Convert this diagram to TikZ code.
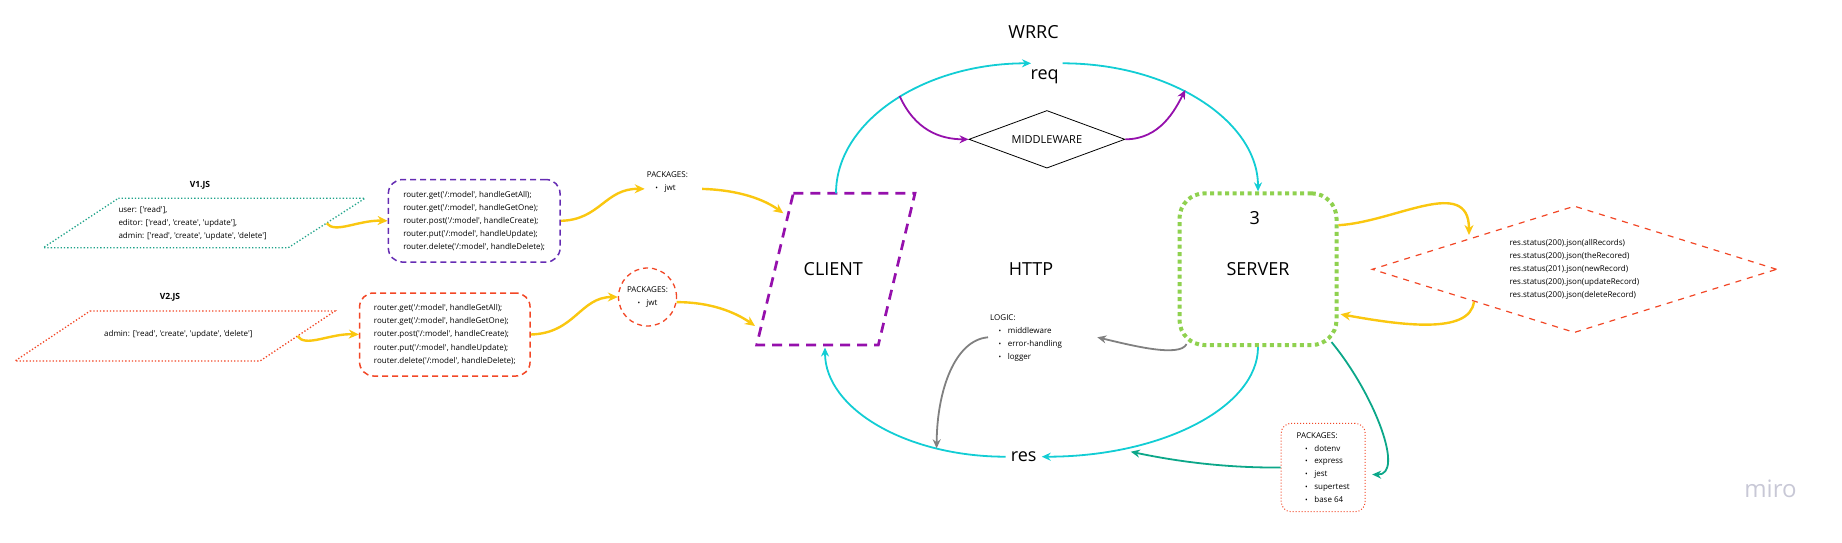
\documentclass[tikz,border=0pt]{standalone}
\usepackage{fontspec}
\setmainfont{Open Sans}[Ligatures=TeXOff]
\usetikzlibrary{arrows.meta,shapes.geometric}

\definecolor{miroyellow}{HTML}{FAC710}
\definecolor{mirocyan}{HTML}{12CDD4}
\definecolor{miroteal}{HTML}{0CA789}
\definecolor{v1teal}{HTML}{1FA38A}
\definecolor{mirogreen}{HTML}{8FD14F}
\definecolor{miropurple}{HTML}{9510AC}
\definecolor{miroviolet}{HTML}{652CB3}
\definecolor{mirored}{HTML}{F24726}
\definecolor{mirogray}{HTML}{808080}
\definecolor{markgray}{HTML}{C8C8D6}

\newcommand{\bulmark}{{\fontsize{7}{7}\selectfont •}}
\newcommand{\pkgbul}[1]{\hspace*{8.5pt}\bulmark\hspace{6.5pt}#1}

\begin{document}
\begin{tikzpicture}[x=1pt,y=-1pt,
	yarrow/.style={draw=miroyellow, line width=2.4pt, -{Stealth[length=10pt,width=9pt]}},
	carrow/.style={draw=mirocyan, line width=1.8pt, -{Stealth[length=9pt,width=8pt]}},
	parrow/.style={draw=miropurple, line width=1.8pt, -{Stealth[length=9pt,width=8pt]}},
	tarrow/.style={draw=miroteal, line width=1.8pt, -{Stealth[length=9pt,width=8pt]}},
	garrow/.style={draw=mirogray, line width=1.8pt, -{Stealth[length=9pt,width=8pt]}},
	txt/.style={font=\fontsize{8}{12.9}\selectfont, align=left, inner sep=0pt},
	codetxt/.style={font=\fontsize{8}{13.1}\selectfont, align=left, inner sep=0pt},
	big/.style={font=\fontsize{18}{20}\selectfont, inner sep=0pt},
	title/.style={font=\fontsize{8.5}{10}\selectfont\bfseries, inner sep=0pt},
]
	\useasboundingbox (0,0) rectangle (1842,542);
	\coordinate (A1) at (118.3,198.3);
	\coordinate (B1) at (365,198.3);
	\coordinate (C1) at (288.3,247.7);
	\coordinate (D1) at (43.3,247.7);
	\coordinate (A2) at (90,311);
	\coordinate (B2) at (335,311);
	\coordinate (C2) at (260,361);
	\coordinate (D2) at (15,361);
	\coordinate (A0) at (793.3,193.3);
	\coordinate (B0) at (915,193.3);
	\coordinate (C0) at (878.3,345);
	\coordinate (D0) at (756.7,345);
% roles files
	\draw[v1teal, line width=1.3pt, dotted] (A1) -- (B1) -- (C1) -- (D1) -- cycle;
	\node[title] (v1title) at (200,185) {V1.JS};
	\node[txt, anchor=west] (v1roles) at (118.3,223.5) {user: ['read'],\\editor: ['read', 'create', 'update'],\\admin: ['read', 'create', 'update', 'delete']};
	\draw[mirored, line width=1.3pt, dotted] (A2) -- (B2) -- (C2) -- (D2) -- cycle;
	\node[title] (v2title) at (170,297.7) {V2.JS};
	\node[txt] (v2roles) at (178.3,334) {admin: ['read', 'create', 'update', 'delete']};
	% routes
	\node[codetxt, draw=miroviolet, line width=1.5pt, dash pattern=on 6pt off 4pt, rounded corners=14pt, minimum width=171.7pt, minimum height=82.5pt] (routes1) at (474.2,220.8) {router.get('/:model', handleGetAll);\\router.get('/:model', handleGetOne);\\router.post('/:model', handleCreate);\\router.put('/:model', handleUpdate);\\router.delete('/:model', handleDelete);};
	\node[codetxt, draw=mirored, line width=1.5pt, dash pattern=on 6pt off 4pt, rounded corners=14pt, minimum width=170.5pt, minimum height=83pt] (routes2) at (444.8,334.5) {router.get('/:model', handleGetAll);\\router.get('/:model', handleGetOne);\\router.post('/:model', handleCreate);\\router.put('/:model', handleUpdate);\\router.delete('/:model', handleDelete);};
	% packages
	\node[txt, anchor=west] (pkg1) at (646.7,182.4) {PACKAGES:\\\pkgbul{jwt}};
	\node[txt, align=center, circle, draw=mirored, line width=1.3pt, dash pattern=on 5pt off 4pt, minimum size=58pt] (pkg2) at (647.5,297) {PACKAGES:\\\bulmark\hspace{6pt}jwt};
	% client
	\draw[miropurple, line width=2.7pt, dash pattern=on 10pt off 7pt] (A0) -- (B0) -- (C0) -- (D0) -- cycle;
	\node[big] (client) at (833.3,269.3) {CLIENT};
	\node[big] (http) at (1031,269.3) {HTTP};
	\node[big] (wrrc) at (1033.5,32.3) {WRRC};
	\node[big, inner sep=5pt] (req) at (1044.6,76.7) {req};
	\node[big, inner sep=5pt] (res) at (1023.7,456.7) {res};
	\node[draw, diamond, line width=0.8pt, aspect=2.7, inner sep=0pt, minimum width=156pt, minimum height=57.6pt, font=\fontsize{11}{12}\selectfont] (mw) at (1046.9,139.3) {MIDDLEWARE};
	\node[txt, anchor=west] (logic) at (990,338) {LOGIC:\\\pkgbul{middleware}\\\pkgbul{error-handling}\\\pkgbul{logger}};
	% server
	\node[draw=mirogreen, line width=4pt, dash pattern=on 4pt off 3.5pt, rounded corners=25pt, minimum width=157pt, minimum height=151.7pt, big] (server) at (1258,269.2) {SERVER};
	\node[big] (three) at (1254.8,218.3) {3};
	\node[txt, draw=mirored, line width=1.2pt, dash pattern=on 6pt off 6pt, diamond, aspect=3.2, minimum width=404.8pt, minimum height=126.7pt] (status) at (1574.4,269.3) {res.status(200).json(allRecords)\\res.status(200).json(theRecored)\\res.status(201).json(newRecord)\\res.status(200).json(updateRecord)\\res.status(200).json(deleteRecord)};
	\node[txt, draw=mirored, line width=1pt, dotted, rounded corners=10pt, minimum width=84pt, minimum height=88.4pt] (pkg3) at (1323.2,467.5) {PACKAGES:\\\pkgbul{dotenv}\\\pkgbul{express}\\\pkgbul{jest}\\\pkgbul{supertest}\\\pkgbul{base 64}};
	\node[font=\fontsize{24}{24}\selectfont, text=markgray, inner sep=0pt] (miro) at (1770.5,489) {miro};
	% free ends
	\coordinate (v1out) at (326.7,223.3);
	\coordinate (v2out) at (297.5,336);
	\coordinate (clin1) at (783.3,213.3);
	\coordinate (clin2) at (755,326);
	\coordinate (cltop) at (836,193.3);
	\coordinate (clbot) at (825,347.5);
	\coordinate (reqin) at (1031,63.3);
	\coordinate (reqout) at (1062.5,63.3);
	\coordinate (mwin) at (899.6,96);
	\coordinate (mwout) at (1185.3,90);
	\coordinate (stin) at (1469,235);
	\coordinate (stout) at (1473.9,301.7);
	\coordinate (logicin) at (1097.3,337.3);
	\coordinate (logicout) at (988,337.3);
	\coordinate (resin) at (936.6,448.3);
	\coordinate (resin2) at (1130.8,451.7);
	% yellow arrows
	\draw[yarrow] (v1out) .. controls (335,234) and (358,220) .. (routes1.west);
	\draw[yarrow] (routes1.east) .. controls (600,220) and (605,188.3) .. ([xshift=-2pt,yshift=-6.5pt]pkg1.west);
	\draw[yarrow] ([xshift=14pt,yshift=-6.5pt]pkg1.east) .. controls (740,190) and (765,200) .. (clin1);
	\draw[yarrow] (v2out) .. controls (305,348) and (330,333.3) .. (routes2.west);
	\draw[yarrow] (routes2.east) .. controls (575,333.3) and (580,297) .. (pkg2.west);
	\draw[yarrow] (pkg2.-10) .. controls (710,302) and (735,312) .. (clin2);
	\draw[yarrow] ([yshift=44pt]server.east) .. controls (1395,222) and (1469,175) .. (stin);
	\draw[yarrow] (stout) .. controls (1470,335) and (1400,325) .. ([xshift=2pt,yshift=-45pt]server.east);
	% request / response
	\draw[carrow] (cltop) .. controls (836,121.5) and (923.4,63.3) .. (reqin);
	\draw[carrow] (reqout) .. controls (1170,63.3) and (server.north |- 0,121) .. (server.north);
	\draw[parrow] (mwin) .. controls (915,130) and (940,139.3) .. (mw.west);
	\draw[parrow] (mw.east) .. controls (1160,139.3) and (1175,110) .. (mwout);
	\draw[carrow] (server.south) .. controls (1258,407) and (1162,456.7) .. (res.east);
	\draw[carrow] (res.west) .. controls (907,456.7) and (825,409) .. (clbot);
	\draw[garrow] ([xshift=9pt,yshift=3pt]server.south west) .. controls (1180,358) and (1130,345) .. (logicin);
	\draw[garrow] (logicout) .. controls (955,340) and (937,390) .. (resin);
	\draw[tarrow] ([xshift=-7pt,yshift=5pt]server.south east) .. controls (1375,395) and (1405,475) .. ([xshift=6.5pt,yshift=-7pt]pkg3.east);
	\draw[tarrow] (pkg3.west) .. controls (1220,468) and (1170,460) .. (resin2);
\end{tikzpicture}
\end{document}
